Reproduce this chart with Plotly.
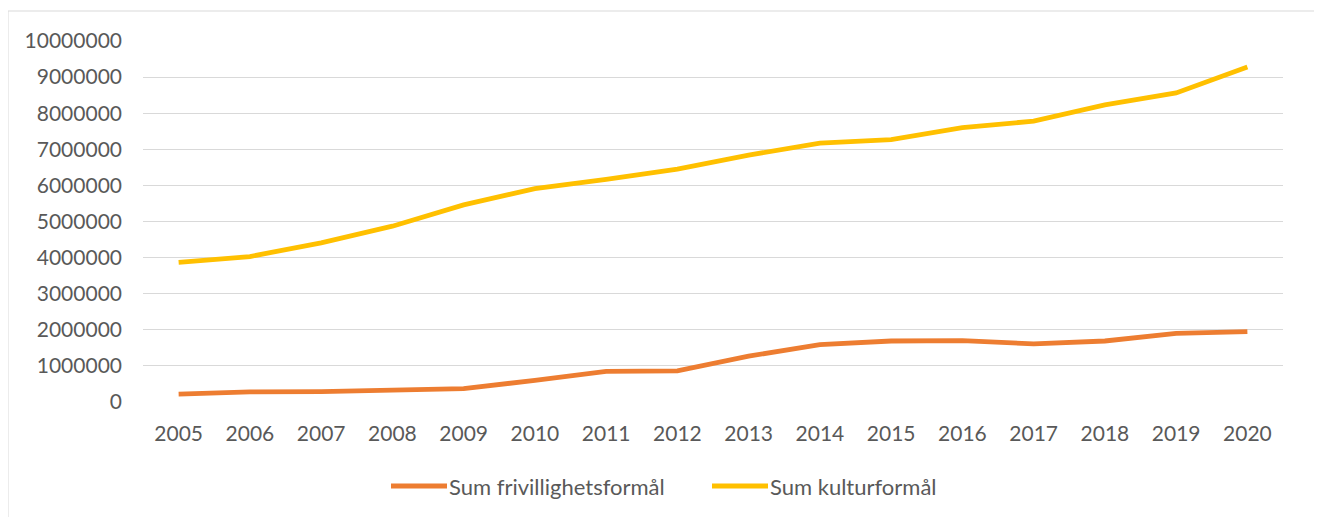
import plotly.graph_objects as go

years = [str(y) for y in range(2005, 2021)]
frivillighet = [220000, 280000, 290000, 330000, 370000, 600000, 850000, 860000,
                1270000, 1590000, 1690000, 1700000, 1610000, 1690000, 1900000, 1950000]
kultur = [3870000, 4030000, 4410000, 4870000, 5460000, 5910000, 6170000, 6450000,
          6840000, 7170000, 7270000, 7600000, 7780000, 8230000, 8560000, 9280000]
y_ticks = list(range(0, 10000001, 1000000))
series_names = ["Sum frivillighetsformål", "Sum kulturformål"]
series_colors = ["#ED7D31", "#FFC000"]

# page body has an 8px margin; lay out in figure coordinates
OFF = 8
W, H = 1322 - OFF, 517 - OFF
L, R, T, B = 143 - OFF, 1283 - OFF, 41 - OFF, 402 - OFF
PW, PH = R - L, B - T

def px(x):
    return (x - OFF - L) / PW

def py(y):
    return (B - (y - OFF)) / PH

fig = go.Figure()
for name, vals, col in zip(series_names, [frivillighet, kultur], series_colors):
    fig.add_trace(go.Scatter(x=years, y=vals, mode="lines", name=name,
                             line=dict(color=col, width=4.8), showlegend=False))

font = "Lato, Carlito, Open Sans, sans-serif"
fs = 21
fig.update_layout(
    width=W, height=H,
    margin=dict(l=L, r=W - R, t=T, b=H - B),
    paper_bgcolor="white", plot_bgcolor="white",
    font=dict(family=font, size=fs, color="#595959"),
    xaxis=dict(type="category", range=[-0.5, 15.5], showgrid=False, showline=False,
               ticks="", tickfont=dict(size=fs, color="#595959"), ticklabelstandoff=17,
               zeroline=False),
    yaxis=dict(range=[0, 10000000], tickvals=y_ticks, ticktext=[str(v) for v in y_ticks],
               showgrid=True, gridcolor="#D9D9D9", gridwidth=1, zeroline=False,
               showline=False, ticks="", tickfont=dict(size=fs, color="#595959"),
               ticklabelstandoff=20),
    showlegend=False,
)
# outer chart border
fig.add_shape(type="rect", xref="paper", yref="paper",
              x0=px(8), x1=px(1316), y0=py(530), y1=py(11),
              line=dict(color="#D9D9D9", width=1), fillcolor="rgba(0,0,0,0)", layer="below")

# legend drawn manually (sample line + label)
leg_y = py(486)
sample_starts = [391, 712]
for name, col, x0 in zip(series_names, series_colors, sample_starts):
    fig.add_shape(type="line", xref="paper", yref="paper",
                  x0=px(x0), x1=px(x0 + 56), y0=leg_y, y1=leg_y,
                  line=dict(color=col, width=4.8))
    fig.add_annotation(xref="paper", yref="paper", x=px(x0 + 56), y=leg_y,
                       text=name, showarrow=False, xanchor="left", yanchor="middle",
                       font=dict(family=font, size=22, color="#595959"))

fig.write_html("out.html")
